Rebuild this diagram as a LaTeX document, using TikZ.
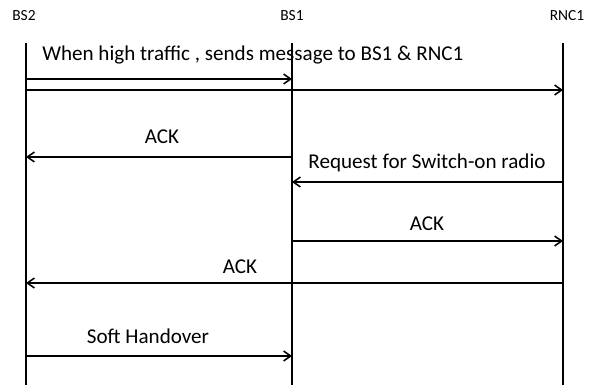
\documentclass[tikz,border=0pt]{standalone}
\usepackage{fontspec}
\setmainfont{Carlito}
\usetikzlibrary{arrows.meta}

\tikzset{
  msg/.style={line width=1.1pt,-{Straight Barb[length=5pt,width=7pt]}},
  life/.style={line width=1.2pt},
  lbl/.style={inner sep=0pt,font=\fontsize{15}{18}\selectfont},
  head/.style={inner sep=0pt,font=\fontsize{11}{13}\selectfont}
}

\begin{document}
\begin{tikzpicture}[x=0.025cm,y=-0.025cm]
      \useasboundingbox (0,0) rectangle (602,385);
      % entities
      \node[head] (bs2) at (24,16) {BS2};
      \node[head] (bs1) at (292,16) {BS1};
      \node[head] (rnc1) at (567,16) {RNC1};
      % lifelines
      \coordinate (bs2top) at (26,43);
      \coordinate (bs1top) at (292,43);
      \coordinate (rnc1top) at (563,43);
      \coordinate (bs2end) at (26,385);
      \coordinate (bs1end) at (292,385);
      \coordinate (rnc1end) at (563,385);
      \draw[life] (bs2top)--(bs2end);
      \draw[life] (bs1top)--(bs1end);
      \draw[life] (rnc1top)--(rnc1end);
      % messages
      \node[lbl,anchor=west] (m1) at (42,55) {When high traffic , sends message to BS1 \& RNC1};
      \draw[msg] (bs2top |- 0,79)--(bs1top |- 0,79);
      \draw[msg] (bs2top |- 0,90)--(rnc1top |- 0,90);
      \node[lbl] (m2) at (162,137) {ACK};
      \draw[msg] (bs1top |- 0,157)--(bs2top |- 0,157);
      \node[lbl] (m3) at (427,163) {Request for Switch-on radio};
      \draw[msg] (rnc1top |- 0,182)--(bs1top |- 0,182);
      \node[lbl] (m4) at (427,224) {ACK};
      \draw[msg] (bs1top |- 0,241)--(rnc1top |- 0,241);
      \node[lbl] (m5) at (240,267) {ACK};
      \draw[msg] (rnc1top |- 0,283)--(bs2top |- 0,283);
      \node[lbl] (m6) at (148,336) {Soft Handover};
      \draw[msg] (bs2top |- 0,356)--(bs1top |- 0,356);
    \end{tikzpicture}
\end{document}
